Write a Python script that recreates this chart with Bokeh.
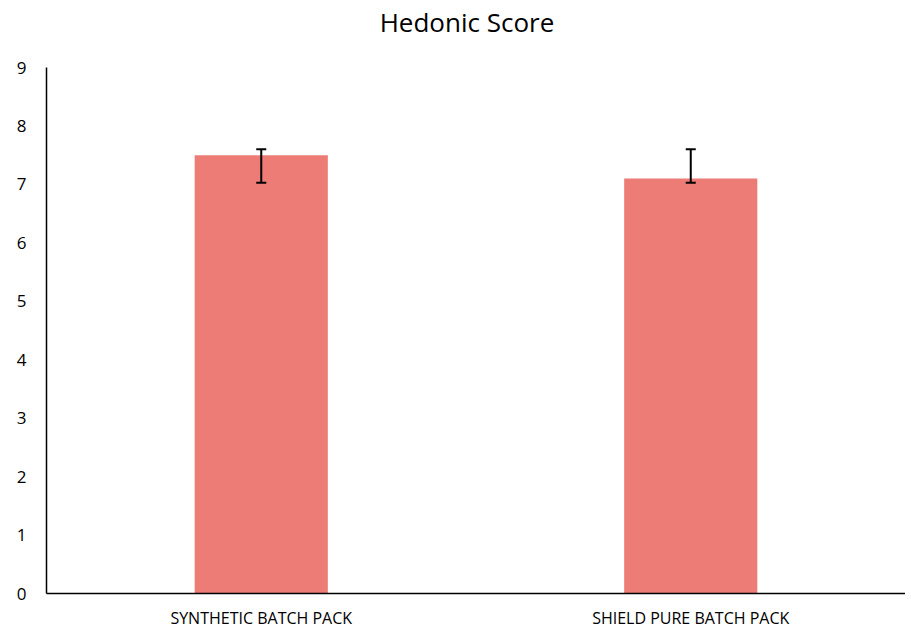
from bokeh.plotting import figure
from bokeh.models import ColumnDataSource, Whisker, FactorRange, Range1d, Label
from bokeh.embed import file_html
from bokeh.resources import INLINE

title_text = "Hedonic Score"
categories = ["SYNTHETIC BATCH PACK", "SHIELD PURE BATCH PACK"]
scores = [7.5, 7.1]
err_upper = [7.6, 7.6]
err_lower = [7.03, 7.03]
y_ticks = [0, 1, 2, 3, 4, 5, 6, 7, 8, 9]
y_axis_max = 9

FONT = "Open Sans"
BAR_COLOR = "#EC7C75"

# pixel layout: value axis 0..9 spans 526 px, 67 px of room above it for the title
PX_PER_UNIT = 526 / y_axis_max
TOP_ROOM = 67

src = ColumnDataSource(data=dict(cat=categories, score=scores, upper=err_upper, lower=err_lower))

p = figure(x_range=FactorRange(*categories, range_padding=0),
           y_range=Range1d(0, y_axis_max + TOP_ROOM / PX_PER_UNIT),
           frame_width=859, frame_height=526 + TOP_ROOM, output_backend="svg", toolbar_location=None)

p.min_border_left = 46
p.min_border_right = 0
p.min_border_top = 0
p.min_border_bottom = 20

p.vbar(x="cat", top="score", width=0.31, source=src, color=BAR_COLOR, line_color=None)

w = Whisker(base="cat", upper="upper", lower="lower", source=src, line_color="black", line_width=2,
            level="overlay")
w.upper_head.size = 10
w.lower_head.size = 10
w.upper_head.line_width = 2
w.lower_head.line_width = 2
p.add_layout(w)

# chart title centred over the chart
title = Label(x=1, y=y_axis_max + (TOP_ROOM - 21) / PX_PER_UNIT, x_offset=-9, text=title_text,
              text_align="center", text_baseline="middle",
              text_font=FONT, text_font_size="26px", text_color="#000000")
p.add_layout(title)

p.xgrid.grid_line_color = None
p.ygrid.grid_line_color = None
p.outline_line_color = None

p.yaxis.ticker = y_ticks
p.yaxis.bounds = (0, y_axis_max)
for ax in (p.xaxis, p.yaxis):
    ax.major_tick_line_color = None
    ax.minor_tick_line_color = None
    ax.axis_line_color = "black"
    ax.axis_line_width = 1.5
    ax.major_label_text_font = FONT
    ax.major_label_text_color = "#000000"
p.yaxis.major_label_text_font_size = "17px"
p.yaxis.major_label_standoff = 14
p.xaxis.major_label_text_font_size = "16px"
p.xaxis.major_label_standoff = 7

open("out.html", "w").write(file_html(p, INLINE))
